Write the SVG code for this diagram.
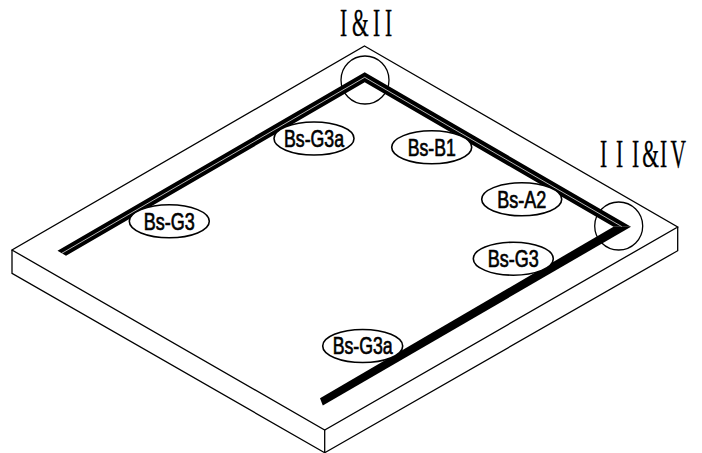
<svg xmlns="http://www.w3.org/2000/svg" width="702" height="453" viewBox="0 0 702 453">
<style>
.l{fill:none;stroke:#000;stroke-width:1.3;stroke-linejoin:miter}
.e{fill:#fff;stroke:#000;stroke-width:1.6}
.t{font-family:"Liberation Sans",Arial,sans-serif;font-size:24px;fill:#000;stroke:#000;stroke-width:.7;text-anchor:middle}
.h{font-family:"Liberation Serif","Times New Roman",serif;font-size:39px;fill:#000;stroke:#000;stroke-width:.3}
</style>
<rect width="702" height="453" fill="#fff"/>
<g id="slab">
<path class="l" d="M364.5 46L677.7 227L324.7 430L12 250Z"/>
<path class="l" d="M12 250V273.3L324.7 452.7L677.7 250.7V227M324.7 430V452.7"/>
</g>
<g id="detail-circles">
<circle class="l" cx="365" cy="80" r="24"/>
<circle class="l" cx="618.7" cy="226" r="24"/>
</g>
<g id="connectors">
<path d="M57.5 250.8L364.7 72.3L631 226.7L613.5 226.7L364.7 82.3L66 255.8Z" fill="#000"/>
<path d="M61.8 253.3L364.7 77.3L622 226.7" fill="none" stroke="#fff" stroke-width=".7"/>
<path d="M631 226.7L613.5 226.7L320 398.3L322.8 405.5Z" fill="#000"/>
</g>
<g id="n-g3a-top"><ellipse class="e" cx="314" cy="138.5" rx="40" ry="16.5"/><text class="t" x="314" y="146.5" textLength="60" lengthAdjust="spacingAndGlyphs">Bs-G3a</text></g>
<g id="n-b1"><ellipse class="e" cx="431.7" cy="147.3" rx="40" ry="16.5"/><text class="t" x="431.7" y="155.5" textLength="48" lengthAdjust="spacingAndGlyphs">Bs-B1</text></g>
<g id="n-a2"><ellipse class="e" cx="521.7" cy="199.3" rx="40" ry="16.5"/><text class="t" x="521.7" y="207.5" textLength="49" lengthAdjust="spacingAndGlyphs">Bs-A2</text></g>
<g id="n-g3-right"><ellipse class="e" cx="513.3" cy="258.7" rx="40" ry="16.5"/><text class="t" x="513.3" y="266.5" textLength="51" lengthAdjust="spacingAndGlyphs">Bs-G3</text></g>
<g id="n-g3-left"><ellipse class="e" cx="169.3" cy="221.3" rx="40" ry="16.5"/><text class="t" x="169.3" y="229.5" textLength="51" lengthAdjust="spacingAndGlyphs">Bs-G3</text></g>
<g id="n-g3a-bottom"><ellipse class="e" cx="362.7" cy="346" rx="40" ry="16.5"/><text class="t" x="362.7" y="354" textLength="60" lengthAdjust="spacingAndGlyphs">Bs-G3a</text></g>
<g id="title-1"><text class="h" transform="translate(340 36) scale(.55 1)" x="0 22 60 82">I&amp;II</text></g>
<g id="title-2"><text class="h" transform="translate(600 167) scale(.55 1)" x="0 29 58 77 109 128">III&amp;IV</text></g>
</svg>
